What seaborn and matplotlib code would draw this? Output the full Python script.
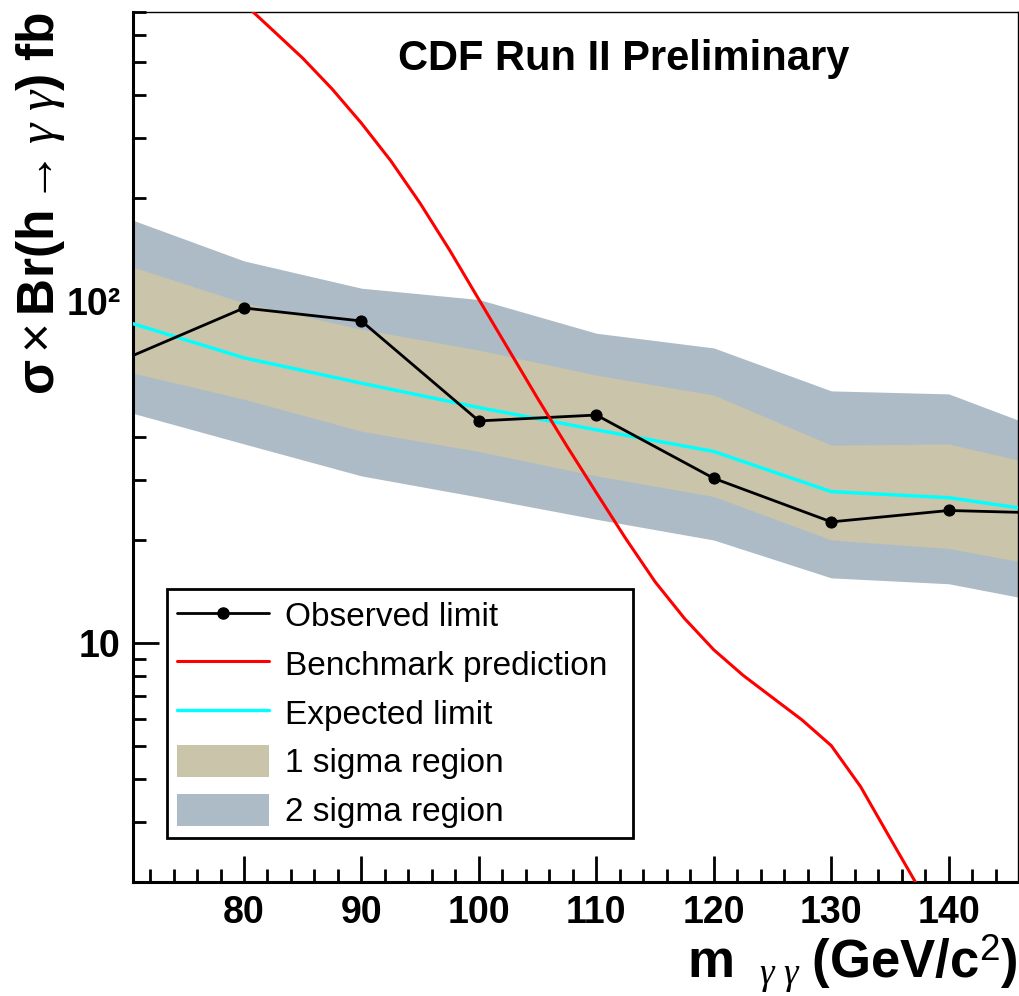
import numpy as np
import pandas as pd
import matplotlib
matplotlib.use("Agg")
import matplotlib.pyplot as plt
import seaborn as sns
from matplotlib.lines import Line2D
from matplotlib.patches import Patch
from matplotlib.ticker import MultipleLocator, FixedLocator, NullFormatter, FixedFormatter

# ---------------- data ----------------
mass = [70, 80, 90, 100, 110, 120, 130, 140, 150]
observed = [68.0, 95.4, 87.4, 44.6, 46.4, 30.3, 22.6, 24.4, 23.9]
expected = [87.0, 68.2, 57.5, 48.8, 42.0, 36.3, 27.7, 26.6, 23.7]
band1_lo = [62.2, 51.6, 41.6, 36.3, 30.8, 26.8, 20.0, 18.9, 16.3]
band1_hi = [127.5, 98.7, 82.7, 71.9, 60.7, 53.1, 37.9, 38.2, 31.8]
band2_lo = [47.5, 38.2, 30.8, 26.7, 23.0, 20.0, 15.5, 14.9, 12.8]
band2_hi = [175.0, 131.0, 109.0, 101.0, 80.5, 72.9, 54.6, 53.5, 39.7]

bench_mass = [80, 82.5, 85, 87.5, 90, 92.5, 95, 97.5, 100, 102.5, 105, 107.5,
              110, 112.5, 115, 117.5, 120, 122.5, 125, 127.5, 130, 132.5, 135,
              137.5, 140]
bench_xsec = [741, 617, 513, 417, 331, 257, 193, 141, 101, 72.4, 51.9, 37.6,
              27.5, 20.2, 15.1, 11.8, 9.55, 8.04, 6.92, 5.96, 5.01, 3.80, 2.69,
              1.91, 1.35]

legend_labels = ["Observed limit", "Benchmark prediction", "Expected limit",
                 "1 sigma region", "2 sigma region"]
title_text = "CDF Run II Preliminary"

# ---------------- style ----------------
sns.set_theme(style="white")
plt.rcParams['font.family'] = ['Liberation Sans', 'DejaVu Sans']
plt.rcParams['text.color'] = 'black'
plt.rcParams['axes.labelcolor'] = 'black'
plt.rcParams['xtick.color'] = 'black'
plt.rcParams['ytick.color'] = 'black'
plt.rcParams['mathtext.fontset'] = 'custom'
plt.rcParams['mathtext.rm'] = 'Liberation Sans'
plt.rcParams['mathtext.bf'] = 'Liberation Sans:bold'
plt.rcParams['mathtext.it'] = 'Liberation Serif:italic'

TAN = "#C9C4AA"
BLUE = "#ADBBC6"

W, H = 1020, 996
fig = plt.figure(figsize=(W / 100, H / 100), dpi=100)
ax = fig.add_axes([133 / W, 1 - 882 / H, 885 / W, 870 / H])

df = pd.DataFrame({"mass": mass, "observed": observed, "expected": expected,
                   "b1lo": band1_lo, "b1hi": band1_hi,
                   "b2lo": band2_lo, "b2hi": band2_hi})
bench = pd.DataFrame({"mass": bench_mass, "xsec": bench_xsec})

ax.fill_between(df["mass"], df["b2lo"], df["b2hi"], color=BLUE, lw=0, zorder=1)
ax.fill_between(df["mass"], df["b1lo"], df["b1hi"], color=TAN, lw=0, zorder=1.1)

sns.lineplot(data=df, x="mass", y="expected", ax=ax, color="#00FFFF", lw=2.4,
             legend=False, zorder=3)
sns.lineplot(data=df, x="mass", y="observed", ax=ax, color="black", lw=2.0,
             marker="o", markersize=8, markeredgecolor="black", legend=False,
             zorder=4)
sns.lineplot(data=bench, x="mass", y="xsec", ax=ax, color="#FF0000", lw=2.2,
             legend=False, zorder=5)

ax.set_yscale("log")
ax.set_xlim(70.55, 145.9)
ax.set_ylim(2, 700)
ax.set_axisbelow(True)

# ticks
ax.xaxis.set_major_locator(MultipleLocator(10))
ax.xaxis.set_minor_locator(MultipleLocator(2))
ax.yaxis.set_major_locator(FixedLocator([10, 100]))
ax.yaxis.set_major_formatter(FixedFormatter(["10", "10\u00b2"]))
minors = [v * d for d in (1, 10, 100) for v in range(2, 10)
          if 2 <= v * d <= 700 and v * d not in (10, 100)]
ax.yaxis.set_minor_locator(FixedLocator(minors))
ax.yaxis.set_minor_formatter(NullFormatter())
ax.tick_params(axis="both", which="major", direction="in", length=19, width=2.0,
               labelsize=27, pad=9, color="black", labelcolor="black",
               bottom=True, left=True, top=False, right=False)
ax.tick_params(axis="both", which="minor", direction="in", length=9.5, width=2.0,
               bottom=True, left=True, top=False, right=False, color="black")
for lab in ax.get_xticklabels() + ax.get_yticklabels():
    lab.set_fontweight("bold")

for side in ("left", "bottom"):
    ax.spines[side].set_linewidth(2.2)
    ax.spines[side].set_color("black")
for side in ("top", "right"):
    ax.spines[side].set_linewidth(1.0)
    ax.spines[side].set_color("black")

# axis labels
ax.set_xlabel(r"$\mathbf{m}\ \ {}_{\gamma\ \gamma}\ \mathbf{(GeV/c}^{\mathrm{2}}\mathbf{)}$",
              fontsize=38, ha="right", va="top", color="black")
ax.xaxis.set_label_coords(1.0, -0.058)
ax.set_ylabel(r"$\mathbf{\sigma}\times\mathbf{Br(h}\rightarrow\gamma\ \gamma\mathbf{)\ fb}$",
              fontsize=37, ha="right", va="center", color="black")
ax.yaxis.set_label_coords(-0.105, 1.0)

ax.text(0.555, 0.946, title_text, transform=ax.transAxes, ha="center",
        va="center", fontsize=30, fontweight="bold", color="black")

# legend
handles = [
    Line2D([], [], color="black", lw=2.0, marker="o", markersize=8),
    Line2D([], [], color="#FF0000", lw=2.2),
    Line2D([], [], color="#00FFFF", lw=2.4),
    Patch(facecolor=TAN, edgecolor="none"),
    Patch(facecolor=BLUE, edgecolor="none"),
]
leg = ax.legend(handles, legend_labels, loc="upper left", mode="expand",
                bbox_to_anchor=(167 / W, 1 - 838 / H, 466 / W, 249 / H),
                bbox_transform=fig.transFigure, borderaxespad=0,
                fontsize=24, frameon=True, fancybox=False, framealpha=1,
                edgecolor="black", facecolor="white", handlelength=2.75,
                handleheight=1.1, handletextpad=0.5, labelspacing=0.43,
                borderpad=0.3, labelcolor="black")
leg.get_frame().set_linewidth(2.0)
leg.set_zorder(10)

fig.savefig("out.png", dpi=100)
